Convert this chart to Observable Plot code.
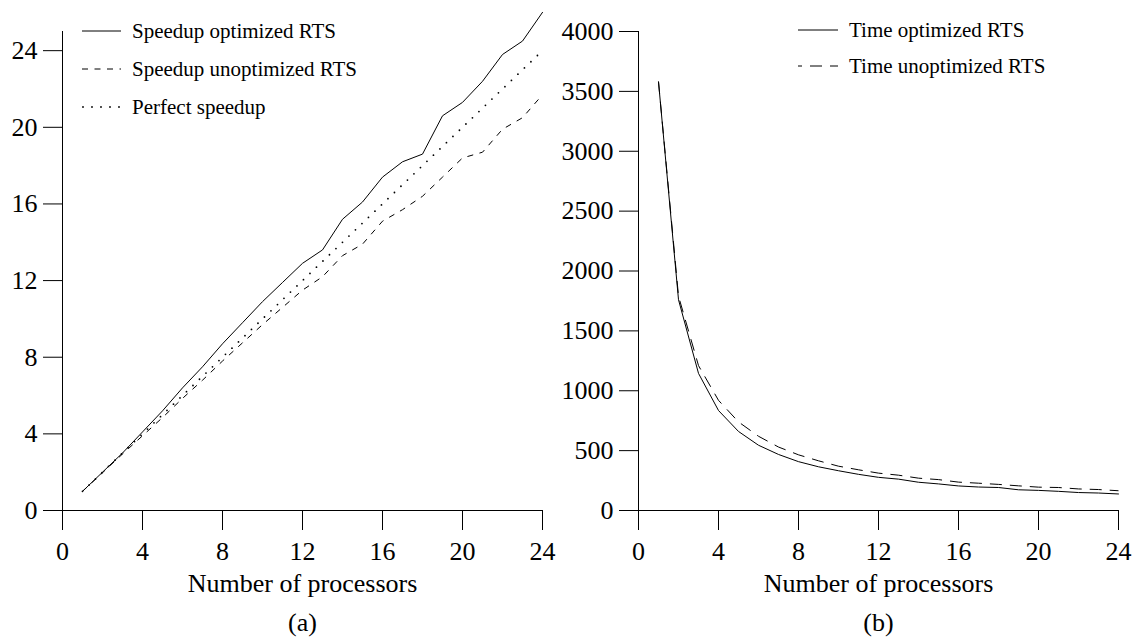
<!DOCTYPE html>
<html>
<head>
<meta charset="utf-8">
<script src="https://cdn.jsdelivr.net/npm/d3@7"></script>
<script src="https://cdn.jsdelivr.net/npm/@observablehq/plot@0.6"></script>
<style>
  html, body { margin: 0; padding: 0; background: #fff; }
  #wrap { display: flex; width: 1136px; height: 639px; overflow: hidden; }
  #wrap svg { display: block; }
</style>
</head>
<body>
<div id="wrap"></div>
<script>
// ---- data ----
const processors = [1, 2, 3, 4, 5, 6, 7, 8, 9, 10, 11, 12, 13, 14, 15, 16, 17, 18, 19, 20, 21, 22, 23, 24];
const speedupOptimized = [1.0, 2.0, 3.0, 4.1, 5.2, 6.4, 7.5, 8.7, 9.8, 10.9, 11.9, 12.9, 13.6, 15.2, 16.1, 17.4, 18.2, 18.6, 20.6, 21.3, 22.4, 23.8, 24.5, 26.0];
const speedupUnoptimized = [1.0, 1.97, 2.95, 3.9, 4.85, 5.85, 6.8, 7.8, 8.75, 9.7, 10.6, 11.5, 12.2, 13.3, 13.9, 15.1, 15.7, 16.4, 17.4, 18.4, 18.7, 19.9, 20.5, 21.7];
const perfectSpeedup = [1, 2, 3, 4, 5, 6, 7, 8, 9, 10, 11, 12, 13, 14, 15, 16, 17, 18, 19, 20, 21, 22, 23, 24];
const timeOptimized = [3580, 1760, 1145, 835, 660, 545, 468, 408, 365, 332, 302, 277, 262, 236, 222, 205, 196, 192, 173, 168, 160, 150, 146, 138];
const timeUnoptimized = [3580, 1790, 1210, 920, 740, 620, 530, 465, 415, 370, 340, 312, 295, 270, 258, 237, 228, 218, 206, 195, 192, 180, 175, 165];
const xTicks = [0, 4, 8, 12, 16, 20, 24];
const speedupTicks = [0, 4, 8, 12, 16, 20, 24];
const timeTicks = [0, 500, 1000, 1500, 2000, 2500, 3000, 3500, 4000];
const xLabel = "Number of processors";
const captions = ["(a)", "(b)"];
const speedupLegend = ["Speedup optimized RTS", "Speedup unoptimized RTS", "Perfect speedup"];
const timeLegend = ["Time optimized RTS", "Time unoptimized RTS"];

// ---- tables ----
const speedupRows = processors.map((p, i) => ({p, opt: speedupOptimized[i], unopt: speedupUnoptimized[i], perfect: perfectSpeedup[i]}));
const timeRows = processors.map((p, i) => ({p, opt: timeOptimized[i], unopt: timeUnoptimized[i]}));

const FONT = "'Liberation Serif', 'Times New Roman', Times, serif";
const fmt = d => String(d);

function commonMarks(caption, yTicks) {
  return [
    Plot.ruleX([0], {stroke: "#000", strokeWidth: 1}),
    Plot.ruleY([0], {stroke: "#000", strokeWidth: 1}),
    Plot.axisX(xTicks, {tickSize: 20, tickPadding: 11, fontSize: 26, label: null, tickFormat: fmt}),
    Plot.axisY(yTicks, {tickSize: 19, tickPadding: 6, fontSize: 26, label: null, tickFormat: fmt}),
    Plot.text([xLabel], {frameAnchor: "bottom", dy: 81, lineAnchor: "bottom", fontSize: 26, fill: "#000"}),
    Plot.text([caption], {frameAnchor: "bottom", dy: 120, lineAnchor: "bottom", fontSize: 26, fill: "#000"})
  ];
}

const left = Plot.plot({
  width: 568, height: 639,
  marginLeft: 62, marginRight: 26, marginTop: 31, marginBottom: 129,
  style: {fontFamily: FONT, fontSize: "26px", color: "#000", background: "#fff", overflow: "visible"},
  x: {domain: [0, 24]},
  y: {domain: [0, 25]},
  marks: [
    ...commonMarks(captions[0], speedupTicks),
    Plot.line(speedupRows, {x: "p", y: "perfect", stroke: "#000", strokeWidth: 1.8, strokeDasharray: "0,9", strokeLinecap: "round"}),
    Plot.line(speedupRows, {x: "p", y: "unopt", stroke: "#000", strokeWidth: 1, strokeDasharray: "6,6.5", strokeLinecap: "butt"}),
    Plot.line(speedupRows, {x: "p", y: "opt", stroke: "#000", strokeWidth: 1})
  ]
});

const right = Plot.plot({
  width: 568, height: 639,
  marginLeft: 70, marginRight: 18, marginTop: 31, marginBottom: 129,
  style: {fontFamily: FONT, fontSize: "26px", color: "#000", background: "#fff", overflow: "visible"},
  x: {domain: [0, 24]},
  y: {domain: [0, 4000]},
  marks: [
    ...commonMarks(captions[1], timeTicks),
    Plot.line(timeRows, {x: "p", y: "unopt", stroke: "#000", strokeWidth: 1, strokeDasharray: "12,8", strokeLinecap: "butt"}),
    Plot.line(timeRows, {x: "p", y: "opt", stroke: "#000", strokeWidth: 1})
  ]
});

// ---- legends ----
function addLegend(svg, items, opts) {
  const g = d3.select(svg).append("g")
    .attr("font-family", FONT).attr("font-size", 21).attr("text-anchor", "start");
  items.forEach((it, i) => {
    const y = opts.y0 + i * opts.step;
    const line = g.append("line")
      .attr("x1", opts.x1).attr("x2", opts.x2).attr("y1", y).attr("y2", y)
      .attr("stroke", "#000").attr("stroke-width", it.width || 1);
    if (it.dash) line.attr("stroke-dasharray", it.dash);
    if (it.offset) line.attr("stroke-dashoffset", it.offset);
    if (it.cap) line.attr("stroke-linecap", it.cap);
    g.append("text").attr("x", opts.tx).attr("y", y + 6.5)
      .attr("text-anchor", "start").attr("fill", "#000").text(it.label);
  });
}

addLegend(left, [
  {label: speedupLegend[0]},
  {label: speedupLegend[1], dash: "6,6.5"},
  {label: speedupLegend[2], dash: "0,9", cap: "round", width: 1.8, offset: -1}
], {x1: 82, x2: 121, tx: 132, y0: 31, step: 38});

addLegend(right, [
  {label: timeLegend[0]},
  {label: timeLegend[1], dash: "12,8", offset: 8}
], {x1: 230, x2: 270, tx: 281, y0: 30, step: 36});

const wrap = document.getElementById("wrap");
wrap.appendChild(left);
wrap.appendChild(right);
</script>
</body>
</html>
